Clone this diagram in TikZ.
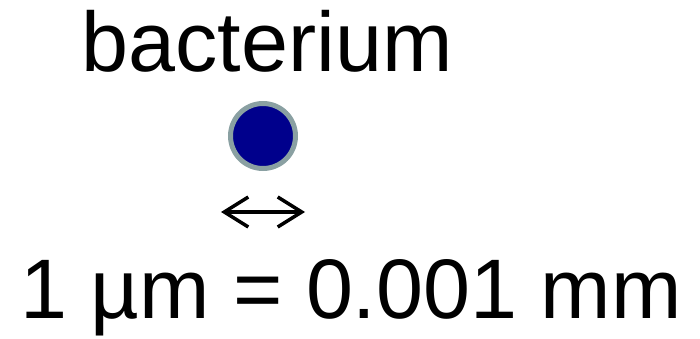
\documentclass[tikz,border=0pt]{standalone}
\usepackage{fontspec}
\setmainfont{Liberation Sans}
\usetikzlibrary{arrows.meta, positioning}
\definecolor{cellblue}{RGB}{0,0,140}
\definecolor{cellrim}{RGB}{138,160,162}
\tikzset{
  label/.style={font=\fontsize{84.5}{88}\selectfont, anchor=base, inner sep=0pt},
  cell/.style={circle, draw=cellrim, fill=cellblue, line width=5pt,
    minimum size=65pt, inner sep=0pt},
  scalearrow/.style={{Straight Barb[length=24pt,width=30pt]}-{Straight Barb[length=24pt,width=30pt]},
    line width=3.5pt, black}
}
\begin{document}
\begin{tikzpicture}[x=1pt, y=-1pt]
  \useasboundingbox (0,0) rectangle (700,339);
  % name of the cell
  \node[label] (name) at (267,72) {bacterium};
  % the cell itself
  \node[cell] (bact) at (263,136) {};
  % size marker
  \coordinate (arrL) at (221,212);
  \coordinate (arrR) at (305,212);
  \draw[scalearrow] (arrL) -- (arrR);
  % scale
  \node[label] (scale) at (351,318) {1 µm = 0.001 mm};
\end{tikzpicture}
\end{document}
